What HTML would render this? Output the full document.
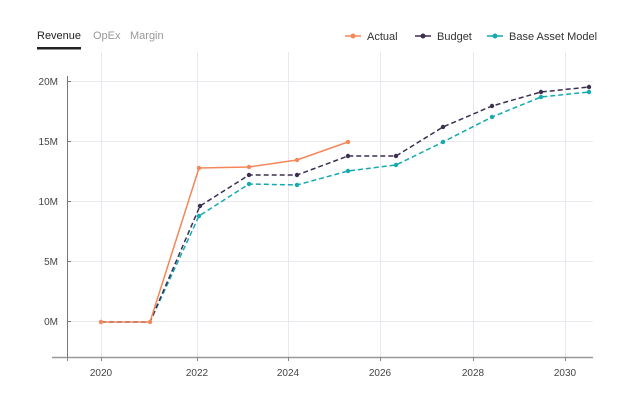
<!DOCTYPE html><html><head><style>body{margin:0;background:#fff;font-family:"Liberation Sans",sans-serif}</style></head><body>
<svg width="634" height="402" xmlns="http://www.w3.org/2000/svg" font-family="Liberation Sans, sans-serif">
<text x="37" y="39" font-size="11" fill="#222">Revenue</text>
<text x="93" y="39" font-size="11" fill="#999">OpEx</text>
<text x="130" y="39" font-size="11" fill="#999">Margin</text>
<rect x="37" y="47" width="44" height="2.5" fill="#222"/>
<g font-size="11" fill="#333">
<line x1="345" y1="36" x2="361" y2="36" stroke="#f4875a" stroke-width="1.5"/><circle cx="353" cy="36" r="2.5" fill="#f4875a"/><text x="367" y="40">Actual</text>
<line x1="415" y1="36" x2="431" y2="36" stroke="#3b2f52" stroke-width="1.5"/><circle cx="423" cy="36" r="2.5" fill="#3b2f52"/><text x="437" y="40">Budget</text>
<line x1="487" y1="36" x2="503" y2="36" stroke="#13aab0" stroke-width="1.5"/><circle cx="495" cy="36" r="2.5" fill="#13aab0"/><text x="509" y="40">Base Asset Model</text>
</g>
<g stroke="#e8e8ee" stroke-width="1">
<line x1="101.5" y1="52" x2="101.5" y2="357"/><line x1="197.5" y1="52" x2="197.5" y2="357"/><line x1="288.5" y1="52" x2="288.5" y2="357"/><line x1="380.5" y1="52" x2="380.5" y2="357"/><line x1="473.5" y1="52" x2="473.5" y2="357"/><line x1="565.5" y1="52" x2="565.5" y2="357"/>
<line x1="67" y1="81.5" x2="593" y2="81.5"/><line x1="67" y1="141.5" x2="593" y2="141.5"/><line x1="67" y1="201.5" x2="593" y2="201.5"/><line x1="67" y1="261.5" x2="593" y2="261.5"/><line x1="67" y1="321.5" x2="593" y2="321.5"/>
</g>
<line x1="67.5" y1="76" x2="67.5" y2="357" stroke="#777"/>
<line x1="52" y1="357.5" x2="593" y2="357.5" stroke="#999" stroke-width="1.5"/>
<g stroke="#888"><line x1="67.5" y1="357" x2="67.5" y2="361"/><line x1="101.5" y1="357" x2="101.5" y2="361"/><line x1="197.5" y1="357" x2="197.5" y2="361"/><line x1="288.5" y1="357" x2="288.5" y2="361"/><line x1="380.5" y1="357" x2="380.5" y2="361"/><line x1="473.5" y1="357" x2="473.5" y2="361"/><line x1="565.5" y1="357" x2="565.5" y2="361"/></g>
<g stroke="#777"><line x1="67" y1="81.5" x2="71" y2="81.5"/><line x1="67" y1="141.5" x2="71" y2="141.5"/><line x1="67" y1="201.5" x2="71" y2="201.5"/><line x1="67" y1="261.5" x2="71" y2="261.5"/><line x1="67" y1="321.5" x2="71" y2="321.5"/></g>
<g font-size="10" fill="#444" text-anchor="end"><text x="58" y="85">20M</text><text x="58" y="145">15M</text><text x="58" y="205">10M</text><text x="58" y="265">5M</text><text x="58" y="325">0M</text></g>
<g font-size="10" fill="#444" text-anchor="middle"><text x="101" y="376">2020</text><text x="197" y="376">2022</text><text x="288" y="376">2024</text><text x="380" y="376">2026</text><text x="473" y="376">2028</text><text x="565" y="376">2030</text></g>
<g fill="none" stroke-width="1.5">
<polyline stroke="#13aab0" stroke-dasharray="5,3" points="101,322 150,322 199,216 249,184 297,185 348,171 396,165 443,142 492,117 541,97 589,92"/>
<polyline stroke="#3b2f52" stroke-dasharray="5,3" points="101,322 150,322 200,206 249,175 297,175 348,156 396,156 443,127 492,106 541,92 589,87"/>
<polyline stroke="#f4875a" points="101,322 150,322 199,168 249,167 297,160 348,142"/>
</g>
<g fill="#13aab0"><circle cx="199" cy="216" r="2.2"/><circle cx="249" cy="184" r="2.2"/><circle cx="297" cy="185" r="2.2"/><circle cx="348" cy="171" r="2.2"/><circle cx="396" cy="165" r="2.2"/><circle cx="443" cy="142" r="2.2"/><circle cx="492" cy="117" r="2.2"/><circle cx="541" cy="97" r="2.2"/><circle cx="589" cy="92" r="2.2"/></g>
<g fill="#3b2f52"><circle cx="200" cy="206" r="2.2"/><circle cx="249" cy="175" r="2.2"/><circle cx="297" cy="175" r="2.2"/><circle cx="348" cy="156" r="2.2"/><circle cx="396" cy="156" r="2.2"/><circle cx="443" cy="127" r="2.2"/><circle cx="492" cy="106" r="2.2"/><circle cx="541" cy="92" r="2.2"/><circle cx="589" cy="87" r="2.2"/></g>
<g fill="#f4875a"><circle cx="101" cy="322" r="2.2"/><circle cx="150" cy="322" r="2.2"/><circle cx="199" cy="168" r="2.2"/><circle cx="249" cy="167" r="2.2"/><circle cx="297" cy="160" r="2.2"/><circle cx="348" cy="142" r="2.2"/></g>
</svg></body></html>
